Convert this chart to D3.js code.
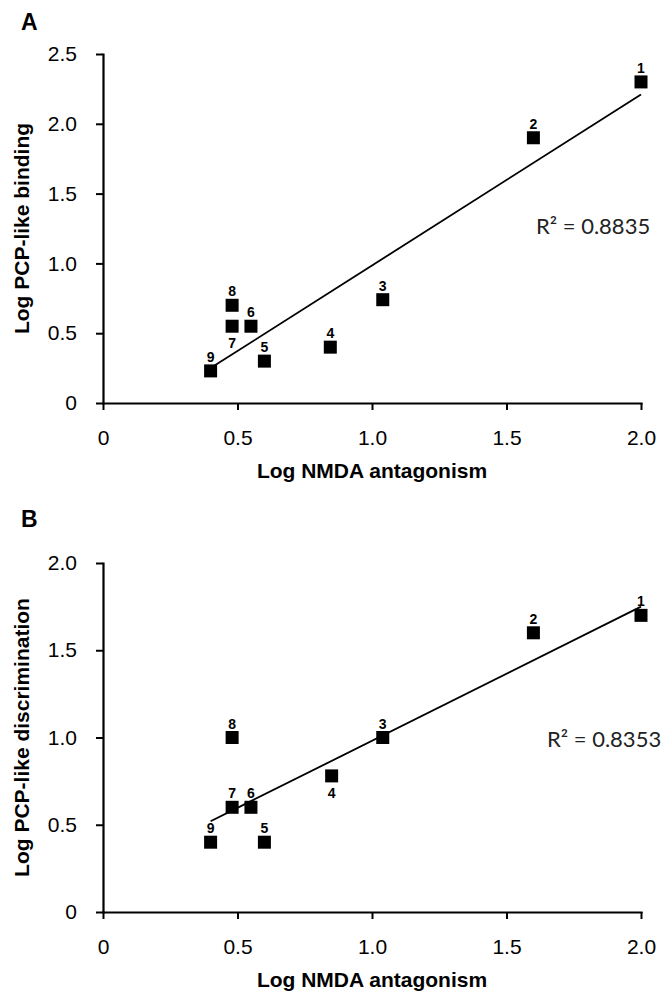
<!DOCTYPE html>
<html>
<head>
<meta charset="utf-8">
<script src="https://cdn.jsdelivr.net/npm/d3@7"></script>
<style>
  html, body { margin: 0; padding: 0; background: #fff; }
  svg { display: block; }
</style>
</head>
<body>
<svg id="chart" width="670" height="1000"></svg>
<script>
// ---- data ----
const pointLabels = ["1", "2", "3", "4", "5", "6", "7", "8", "9"];
const xA = [2.0, 1.6, 1.04, 0.845, 0.6, 0.55, 0.48, 0.48, 0.4];
const yA = [2.3, 1.9, 0.74, 0.4, 0.3, 0.55, 0.55, 0.7, 0.23];
const xB = [2.0, 1.6, 1.04, 0.85, 0.6, 0.55, 0.48, 0.48, 0.4];
const yB = [1.7, 1.6, 1.0, 0.78, 0.4, 0.6, 0.6, 1.0, 0.4];
const trendXA = [0.4, 2.0];
const trendYA = [0.25, 2.21];
const trendXB = [0.4, 2.0];
const trendYB = [0.52, 1.75];
const xTickLabels = ["0", "0.5", "1.0", "1.5", "2.0"];
const yTickLabelsA = ["0", "0.5", "1.0", "1.5", "2.0", "2.5"];
const yTickLabelsB = ["0", "0.5", "1.0", "1.5", "2.0"];
const r2TextA = "R\u00B2 = 0.8835";
const r2TextB = "R\u00B2 = 0.8353";
const belowA = ["7"];
const belowB = ["4"];

const svg = d3.select("#chart");
const FONT = "'Liberation Sans', Arial, sans-serif";

function panel(opt) {
  const x = d3.scaleLinear().domain([0, 2]).range([103, 641]);
  const yMax = +opt.yTicks[opt.yTicks.length - 1];
  const y = d3.scaleLinear().domain([0, yMax]).range([opt.bottom, opt.top]);
  const g = svg.append("g");

  // panel letter
  g.append("text").attr("x", 21).attr("y", opt.letterY)
    .attr("font-family", FONT).attr("font-weight", "bold").attr("font-size", 23)
    .text(opt.letter);

  // axes
  const ax = g.append("g").attr("transform", `translate(0,${opt.bottom})`)
    .call(d3.axisBottom(x).tickValues(xTickLabels.map(Number))
      .tickFormat((d, i) => xTickLabels[i]).tickSize(7).tickSizeOuter(0).tickPadding(20));
  const ay = g.append("g").attr("transform", `translate(103,0)`)
    .call(d3.axisLeft(y).tickValues(opt.yTicks.map(Number))
      .tickFormat((d, i) => opt.yTicks[i]).tickSize(7).tickSizeOuter(0).tickPadding(19));
  [ax, ay].forEach(a => {
    a.select(".domain").attr("stroke", "#000").attr("stroke-width", 2.2).attr("stroke-linecap", "square");
    a.selectAll(".tick line").attr("stroke", "#000").attr("stroke-width", 2);
    a.selectAll(".tick text").attr("font-family", FONT).attr("font-size", 21).attr("fill", "#000");
  });

  // axis titles
  g.append("text").attr("x", 372).attr("y", opt.bottom + 75)
    .attr("text-anchor", "middle").attr("font-family", FONT)
    .attr("font-weight", "bold").attr("font-size", 21).text("Log NMDA antagonism");
  g.append("text")
    .attr("transform", `translate(29,${(opt.top + opt.bottom) / 2}) rotate(-90)`)
    .attr("text-anchor", "middle").attr("font-family", FONT)
    .attr("font-weight", "bold").attr("font-size", 21).text(opt.yTitle);

  // trend line
  const line = d3.line().x(d => x(d[0])).y(d => y(d[1]));
  g.append("path").datum(opt.tx.map((v, i) => [v, opt.ty[i]]))
    .attr("d", line).attr("fill", "none").attr("stroke", "#000").attr("stroke-width", 1.8);

  // points
  const pts = opt.xs.map((v, i) => ({ x: v, y: opt.ys[i], label: pointLabels[i] }));
  const s = 13;
  g.selectAll("rect.pt").data(pts).enter().append("rect")
    .attr("x", d => x(d.x) - s / 2).attr("y", d => y(d.y) - s / 2)
    .attr("width", s).attr("height", s).attr("fill", "#000");
  g.selectAll("text.pl").data(pts).enter().append("text")
    .attr("x", d => x(d.x))
    .attr("y", d => y(d.y) + (opt.below.includes(d.label) ? 22 : -9))
    .attr("text-anchor", "middle").attr("font-family", FONT)
    .attr("font-weight", "bold").attr("font-size", 14).text(d => d.label);

  // R^2
  g.append("text").attr("x", opt.r2x).attr("y", opt.r2y)
    .attr("font-family", "Lato, 'Open Sans', sans-serif").attr("font-size", 22)
    .attr("fill", "#222").text(opt.r2);
}

panel({
  letter: "A", letterY: 30, top: 54, bottom: 403, yTicks: yTickLabelsA,
  yTitle: "Log PCP-like binding", xs: xA, ys: yA, tx: trendXA, ty: trendYA,
  below: belowA, r2: r2TextA, r2x: 536, r2y: 234
});
panel({
  letter: "B", letterY: 527, top: 563, bottom: 912, yTicks: yTickLabelsB,
  yTitle: "Log PCP-like discrimination", xs: xB, ys: yB, tx: trendXB, ty: trendYB,
  below: belowB, r2: r2TextB, r2x: 547, r2y: 747
});
</script>
</body>
</html>
